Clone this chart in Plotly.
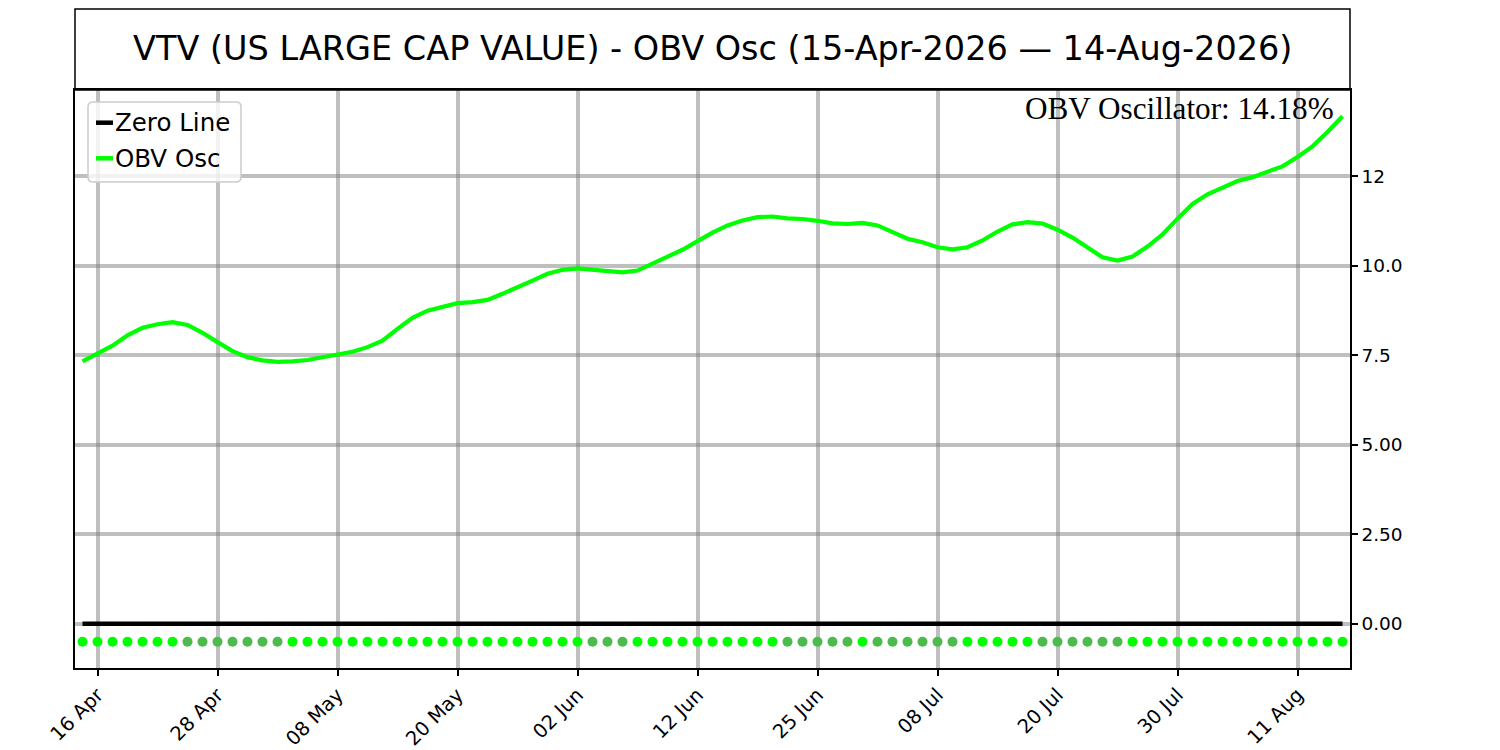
import pandas as pd
import plotly.graph_objects as go

# ---- data ----
START_DATE = "2026-04-15"
END_DATE = "2026-08-14"
HOLIDAYS = ["2026-05-25", "2026-06-19", "2026-07-03"]

OBV_OSC = [
    7.33, 7.54, 7.77, 8.06, 8.27, 8.37, 8.43, 8.35, 8.13, 7.87,
    7.62, 7.45, 7.36, 7.32, 7.33, 7.37, 7.45, 7.52, 7.60, 7.73,
    7.91, 8.24, 8.55, 8.75, 8.87, 8.96, 8.99, 9.05, 9.22, 9.42,
    9.59, 9.78, 9.89, 9.93, 9.89, 9.85, 9.82, 9.87, 10.06, 10.26,
    10.45, 10.69, 10.93, 11.13, 11.27, 11.36, 11.38, 11.33, 11.31, 11.26,
    11.19, 11.17, 11.20, 11.13, 10.94, 10.76, 10.66, 10.52, 10.46, 10.52,
    10.71, 10.96, 11.16, 11.22, 11.18, 11.01, 10.79, 10.51, 10.24, 10.15,
    10.26, 10.54, 10.88, 11.32, 11.73, 12.00, 12.18, 12.37, 12.48, 12.62,
    12.78, 13.04, 13.34, 13.74, 14.18,
]
ZERO_LEVEL = 0.0
DOT_LEVEL = -0.5

X_TICK_LABELS = ["16 Apr", "28 Apr", "08 May", "20 May", "02 Jun", "12 Jun",
                 "25 Jun", "08 Jul", "20 Jul", "30 Jul", "11 Aug"]
Y_TICK_VALUES = [0.0, 2.5, 5.0, 7.5, 10.0, 12.5]
Y_TICK_LABELS = ["0.00", "2.50", "5.00", "7.5", "10.0", "12"]

LEGEND_NAMES = ["Zero Line", "OBV Osc"]
TITLE = "VTV (US LARGE CAP VALUE) - OBV Osc (15-Apr-2026 \u2014 14-Aug-2026)"

# ---- derived ----
dates = pd.bdate_range(START_DATE, END_DATE, freq="C", holidays=HOLIDAYS)
date_labels = [d.strftime("%d %b") for d in dates]
idx = list(range(len(dates)))
tick_vals = [date_labels.index(lbl) for lbl in X_TICK_LABELS]

BRIGHT = "#00ff00"
DARK = "#4cbb4c"
dot_colors = [BRIGHT] + [DARK if OBV_OSC[i] < OBV_OSC[i - 1] else BRIGHT
                         for i in range(1, len(OBV_OSC))]

# ---- geometry (page pixels; body margin is removed by the post script) ----
PL, PT, PW, PH = 75, 90, 1275, 578          # plot box on the page
W, H = 1500, 750
L, T = PL, PT
R, B = W - L - PW, H - T - PH


def px(x_page):
    return (x_page - PL) / PW


def py(y_page):
    return (PT + PH - y_page) / PH


fig = go.Figure()
fig.add_trace(go.Scatter(
    x=idx, y=[ZERO_LEVEL] * len(idx), mode="lines", name=LEGEND_NAMES[0],
    line=dict(color="black", width=4.5), hoverinfo="skip", showlegend=False,
))
fig.add_trace(go.Scatter(
    x=idx, y=OBV_OSC, mode="lines", name=LEGEND_NAMES[1],
    line=dict(color=BRIGHT, width=4.2), showlegend=False,
    customdata=date_labels, hovertemplate="%{customdata}: %{y:.2f}<extra></extra>",
))
fig.add_trace(go.Scatter(
    x=idx, y=[DOT_LEVEL] * len(idx), mode="markers", showlegend=False,
    marker=dict(color=dot_colors, size=10, line=dict(width=0)), hoverinfo="skip",
))

axis_common = dict(
    showgrid=True, gridcolor="rgba(128,128,128,0.5)", gridwidth=3.5,
    showline=True, linecolor="black", linewidth=1.5, mirror=True,
    zeroline=False, ticks="outside", ticklen=6, tickwidth=1.5, tickcolor="black",
    automargin=False,
)

fig.update_layout(
    width=W, height=H,
    margin=dict(l=L, r=R, t=T, b=B, autoexpand=False),
    paper_bgcolor="white", plot_bgcolor="white",
    xaxis=dict(range=[-0.5, len(idx) - 0.5], tickmode="array",
               tickvals=tick_vals, ticktext=X_TICK_LABELS, tickangle=-45,
               tickfont=dict(family="DejaVu Sans", size=19.5, color="black"),
               **axis_common),
    yaxis=dict(range=[-1.234, 14.914], side="right", tickmode="array",
               tickvals=Y_TICK_VALUES, ticktext=Y_TICK_LABELS,
               tickfont=dict(family="DejaVu Sans", size=18.5, color="black"),
               **axis_common),
    showlegend=False,
)

# title box + title
fig.add_shape(type="rect", xref="paper", yref="paper", x0=0, x1=1,
              y0=1, y1=py(9), line=dict(color="black", width=1.5), layer="above")
fig.add_annotation(xref="paper", yref="paper", x=0.5, y=py(49),
                   xanchor="center", yanchor="middle", showarrow=False,
                   text=TITLE, font=dict(family="DejaVu Sans", size=33.5, color="black"))

# value annotation
fig.add_annotation(xref="paper", yref="paper", x=px(1336), y=py(109),
                   xanchor="right", yanchor="middle", showarrow=False,
                   text=f"OBV Oscillator: {OBV_OSC[-1]:.2f}%",
                   font=dict(family="Liberation Serif", size=31.2, color="black"))

# legend box (rounded)
bx0, bx1, by0, by1 = px(88), px(241), py(182), py(102)
rx, ry = 5 / PW, 5 / PH
path = (f"M {bx0+rx},{by0} L {bx1-rx},{by0} Q {bx1},{by0} {bx1},{by0+ry} "
        f"L {bx1},{by1-ry} Q {bx1},{by1} {bx1-rx},{by1} "
        f"L {bx0+rx},{by1} Q {bx0},{by1} {bx0},{by1-ry} "
        f"L {bx0},{by0+ry} Q {bx0},{by0} {bx0+rx},{by0} Z")
fig.add_shape(type="path", path=path, xref="paper", yref="paper",
              fillcolor="rgba(255,255,255,0.8)", line=dict(color="#cccccc", width=1.5),
              layer="above")
legend_colors = ["black", BRIGHT]
legend_rows = [122.7, 158.3]
for name, col, yrow in zip(LEGEND_NAMES, legend_colors, legend_rows):
    fig.add_shape(type="line", xref="paper", yref="paper",
                  x0=px(96), x1=px(113), y0=py(yrow), y1=py(yrow),
                  line=dict(color=col, width=4.5), layer="above")
    fig.add_annotation(xref="paper", yref="paper", x=px(113), y=py(yrow),
                       xanchor="left", yanchor="middle", showarrow=False,
                       text=name, font=dict(family="DejaVu Sans", size=24.5, color="black"))

fig.write_html(
    "out.html",
    config={"displayModeBar": False},
    post_script="document.body.style.margin='0';document.body.style.overflow='hidden';",
)
